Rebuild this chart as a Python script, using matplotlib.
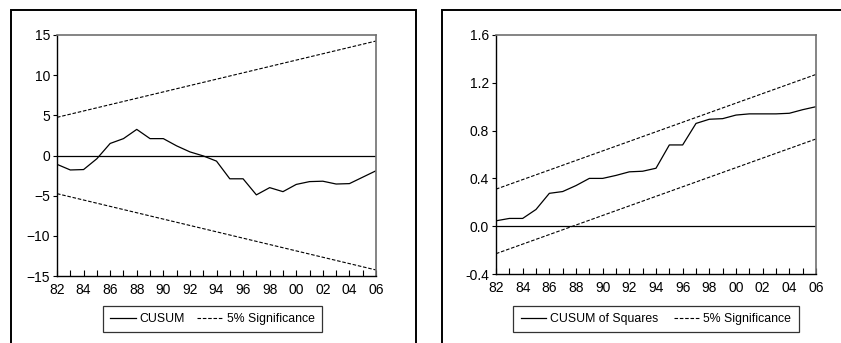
import matplotlib
matplotlib.use("Agg")
import matplotlib.pyplot as plt
from matplotlib.patches import Rectangle
from matplotlib.ticker import MultipleLocator, FuncFormatter

plt.rcParams['font.family'] = ['Liberation Sans', 'DejaVu Sans']
plt.rcParams['font.size'] = 9

years = list(range(1982, 2007))
cusum = [-1.1, -1.8, -1.75, -0.4, 1.5, 2.1, 3.25, 2.1, 2.1, 1.2, 0.45, -0.05,
         -0.7, -2.9, -2.9, -4.9, -4.0, -4.5, -3.6, -3.25, -3.2, -3.55, -3.5, -2.7, -1.9]
cusum_upper = [4.75, 14.25]
cusum_lower = [-4.75, -14.25]

cusumsq = [0.045, 0.065, 0.065, 0.14, 0.275, 0.29, 0.34, 0.40, 0.40, 0.425, 0.455, 0.46,
           0.485, 0.68, 0.68, 0.86, 0.895, 0.90, 0.93, 0.94, 0.94, 0.94, 0.945, 0.975, 1.0]
sq_upper = [0.31, 1.27]
sq_lower = [-0.23, 0.73]
band_years = [1982, 2006]

W, H = 841, 343
fig = plt.figure(figsize=(W / 100, H / 100), dpi=100)

def fx(px):
    return px / W

def fy(py):
    return 1 - py / H

# outer panel boxes
fig.patches.append(Rectangle((fx(11), fy(360)), fx(416) - fx(11), fy(10) - fy(360),
                             transform=fig.transFigure, fill=False, lw=1.4, ec='black'))
fig.patches.append(Rectangle((fx(442), fy(360)), fx(900) - fx(442), fy(9.5) - fy(360),
                             transform=fig.transFigure, fill=False, lw=1.4, ec='black'))

def style_axes(ax):
    ax.set_xlim(1982, 2006)
    ax.xaxis.set_major_locator(MultipleLocator(2))
    ax.xaxis.set_minor_locator(MultipleLocator(1))
    ax.xaxis.set_major_formatter(FuncFormatter(lambda v, p: f"{int(round(v)) % 100:02d}"))
    ax.tick_params(axis='x', which='both', direction='in', length=4.5, width=0.8,
                   top=False, pad=5.0, labelsize=10)
    ax.tick_params(axis='y', which='both', direction='out', length=3, width=0.8,
                   right=False, pad=2, labelsize=10)
    for s in ['left', 'bottom']:
        ax.spines[s].set_color('black')
        ax.spines[s].set_linewidth(1.0)
    for s in ['top', 'right']:
        ax.spines[s].set_color('#707070')
        ax.spines[s].set_linewidth(1.2)

dash = (0, (3.2, 1.6))

leg_kw = dict(loc='center', ncol=2, frameon=True, fancybox=False, edgecolor='black',
              handlelength=2.1, handletextpad=0.3, borderpad=0.6, borderaxespad=0,
              fontsize=8.8)

# left panel
ax1 = fig.add_axes([fx(57), fy(276), fx(376) - fx(57), fy(35) - fy(276)])
ax1.axhline(0, color='black', lw=0.9)
l1, = ax1.plot(years, cusum, color='black', lw=0.9, label='CUSUM')
d1, = ax1.plot(band_years, cusum_upper, color='black', lw=0.8, ls=dash, label='5% Significance')
ax1.plot(band_years, cusum_lower, color='black', lw=0.8, ls=dash)
ax1.set_ylim(-15, 15)
ax1.set_yticks([-15, -10, -5, 0, 5, 10, 15])
style_axes(ax1)
leg1 = fig.legend(handles=[l1, d1], bbox_to_anchor=(fx(212.5), fy(319)),
                  columnspacing=1.0, **leg_kw)
leg1.get_frame().set_linewidth(0.9)

# right panel
ax2 = fig.add_axes([fx(496), fy(274), fx(816) - fx(496), fy(35) - fy(274)])
ax2.axhline(0, color='black', lw=0.9)
l2, = ax2.plot(years, cusumsq, color='black', lw=0.9, label='CUSUM of Squares')
d2, = ax2.plot(band_years, sq_upper, color='black', lw=0.8, ls=dash, label='5% Significance')
ax2.plot(band_years, sq_lower, color='black', lw=0.8, ls=dash)
ax2.set_ylim(-0.4, 1.6)
ax2.set_yticks([-0.4, 0.0, 0.4, 0.8, 1.2, 1.6])
ax2.yaxis.set_major_formatter(FuncFormatter(lambda v, p: f"{v:.1f}"))
style_axes(ax2)
leg2 = fig.legend(handles=[l2, d2], bbox_to_anchor=(fx(656), fy(319)),
                  columnspacing=1.3, **leg_kw)
leg2.get_frame().set_linewidth(0.9)

fig.savefig('out.png', dpi=100)
